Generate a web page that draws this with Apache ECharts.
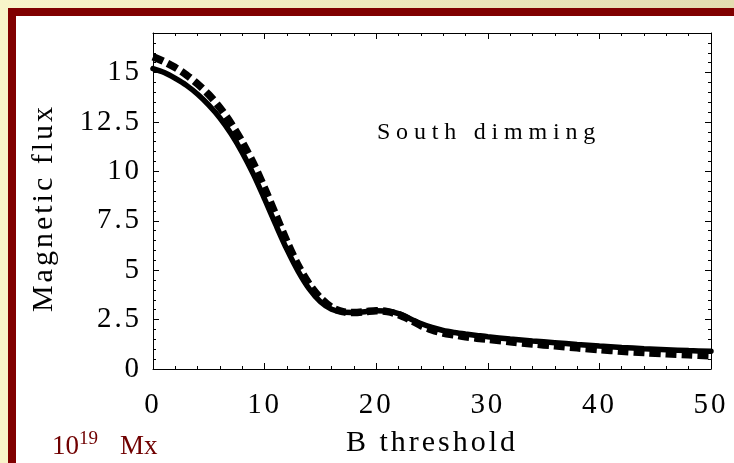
<!DOCTYPE html>
<html>
<head>
<meta charset="utf-8">
<script src="https://cdn.jsdelivr.net/npm/echarts@6/dist/echarts.min.js"></script>
<style>
  html, body { margin: 0; padding: 0; }
  body {
    width: 734px; height: 463px; overflow: hidden; position: relative;
    background: linear-gradient(90deg, #f8f4ca 0%, #efe9bd 50%, #e3dcb1 100%);
  }
  #panel {
    position: absolute; left: 8px; top: 8px; right: 0; bottom: 0;
    border-left: 8px solid #800000; border-top: 8px solid #800000;
    background: #ffffff;
  }
  #chart { position: absolute; left: 0; top: 0; width: 734px; height: 463px; }
</style>
</head>
<body>
<div id="panel"></div>
<div id="chart"></div>
<script>
// ---- data ----
const bThreshold = [0,1,2,3,4,5,6,7,8,9,10,11,12,13,14,15,16,17,18,19,20,21,22,23,24,25,26,27,28,29,30,32,34,36,38,40,42,44,46,48,50];
const fluxSolid  = [15.2,15.0,14.7,14.35,13.9,13.35,12.7,11.9,10.95,9.85,8.6,7.3,6.05,4.95,4.05,3.4,3.02,2.88,2.86,2.9,2.95,2.93,2.8,2.55,2.3,2.1,1.95,1.85,1.77,1.7,1.63,1.52,1.42,1.33,1.24,1.16,1.09,1.03,0.98,0.93,0.9];
const fluxDashed = [15.8,15.55,15.25,14.88,14.42,13.88,13.22,12.42,11.48,10.4,9.15,7.8,6.45,5.25,4.3,3.6,3.12,2.9,2.86,2.9,2.95,2.9,2.75,2.5,2.2,1.98,1.82,1.72,1.63,1.56,1.5,1.38,1.27,1.17,1.07,0.98,0.9,0.83,0.77,0.72,0.67];
const xTicks = [0,10,20,30,40,50];
const yTicks = [0,2.5,5,7.5,10,12.5,15];
const panelTitle = 'South dimming';
const xTitle = 'B threshold';
const yTitle = 'Magnetic flux';

// letter-spaced text like the original (Mathematica-style)
(function () {
  const proto = CanvasRenderingContext2D.prototype;
  const orig = proto.fillText;
  const special = { 'South dimming': 5.8 };
  proto.fillText = function (t, x, y, w) {
    if ('letterSpacing' in this) {
      const m = /(\d+(?:\.\d+)?)px/.exec(this.font);
      const size = m ? parseFloat(m[1]) : 12;
      let sp = special[t] !== undefined ? special[t] : size * 0.1;
      if (String(this.fillStyle).toLowerCase() === '#700000') sp = 0;
      const prev = this.letterSpacing;
      this.letterSpacing = sp + 'px';
      if (w === undefined) orig.call(this, t, x, y); else orig.call(this, t, x, y, w);
      this.letterSpacing = prev;
    } else {
      return orig.apply(this, arguments);
    }
  };
})();

const FONT = '"Liberation Serif", "DejaVu Serif", serif';
const chart = echarts.init(document.getElementById('chart'), null, { renderer: 'canvas' });

function xAxisCfg(pos, showLabels) {
  return {
    type: 'value', position: pos, min: 0, max: 50, interval: 10,
    axisLine: { show: true, onZero: false, lineStyle: { color: '#000', width: 1 } },
    axisTick: { show: true, inside: true, length: 6, lineStyle: { color: '#000', width: 1 } },
    minorTick: { show: true, splitNumber: 5, length: 3, lineStyle: { color: '#000', width: 1 } },
    splitLine: { show: false },
    axisLabel: {
      show: showLabels, margin: 22, color: '#000', fontFamily: FONT, fontSize: 29,
      formatter: v => (xTicks.indexOf(v) >= 0 ? String(v) : '')
    },
    name: showLabels ? xTitle : '',
    nameLocation: 'middle', nameGap: 59,
    nameTextStyle: { color: '#000', fontFamily: FONT, fontSize: 30 }
  };
}
function yAxisCfg(pos, showLabels) {
  return {
    type: 'value', position: pos, min: 0, max: 17, interval: 2.5,
    axisLine: { show: true, onZero: false, lineStyle: { color: '#000', width: 1 } },
    axisTick: { show: true, inside: true, length: 6, lineStyle: { color: '#000', width: 1 } },
    minorTick: { show: true, splitNumber: 5, length: 3, lineStyle: { color: '#000', width: 1 } },
    splitLine: { show: false },
    axisLabel: {
      show: showLabels, margin: 11, color: '#000', fontFamily: FONT, fontSize: 29,
      showMaxLabel: false,
      formatter: v => (yTicks.indexOf(v) >= 0 ? String(v) : '')
    },
    name: showLabels ? yTitle : '',
    nameLocation: 'middle', nameGap: 94,
    nameTextStyle: { color: '#000', fontFamily: FONT, fontSize: 30, padding: [0, 14, 0, 0] }
  };
}

const option = {
  backgroundColor: 'transparent',
  animation: false,
  grid: { left: 153, top: 33, right: 23, bottom: 85, containLabel: false },
  xAxis: [xAxisCfg('bottom', true), xAxisCfg('top', false)],
  yAxis: [yAxisCfg('left', true), yAxisCfg('right', false)],
  series: [
    {
      name: 'solid', type: 'line', xAxisIndex: 0, yAxisIndex: 0,
      data: bThreshold.map((b, i) => [b, fluxSolid[i]]),
      showSymbol: false, symbol: 'none', smooth: 0.3,
      lineStyle: { color: '#000', width: 5.5, type: 'solid', cap: 'round' }
    },
    {
      name: 'dashed', type: 'line', xAxisIndex: 0, yAxisIndex: 0,
      data: bThreshold.map((b, i) => [b, fluxDashed[i]]),
      showSymbol: false, symbol: 'none', smooth: 0.3,
      lineStyle: { color: '#000', width: 7.5, type: [11, 5], cap: 'butt' }
    }
  ],
  graphic: [
    {
      type: 'text', x: 489, y: 133,
      style: { text: panelTitle, font: '24px ' + FONT, fill: '#000', textAlign: 'center', textVerticalAlign: 'middle' }
    },
    {
      type: 'text', x: 52, y: 430,
      style: {
        text: '{b|10}{s|19}{m|Mx}',
        rich: {
          b: { font: '27px ' + FONT, fill: '#700000', lineHeight: 30, verticalAlign: 'bottom' },
          s: { font: '19px ' + FONT, fill: '#700000', lineHeight: 30, verticalAlign: 'top', padding: [0, 0, 3, 0] },
          m: { font: '27px ' + FONT, fill: '#700000', lineHeight: 30, verticalAlign: 'bottom', padding: [0, 0, 0, 22] }
        }
      }
    }
  ]
};
chart.setOption(option);
</script>
</body>
</html>
